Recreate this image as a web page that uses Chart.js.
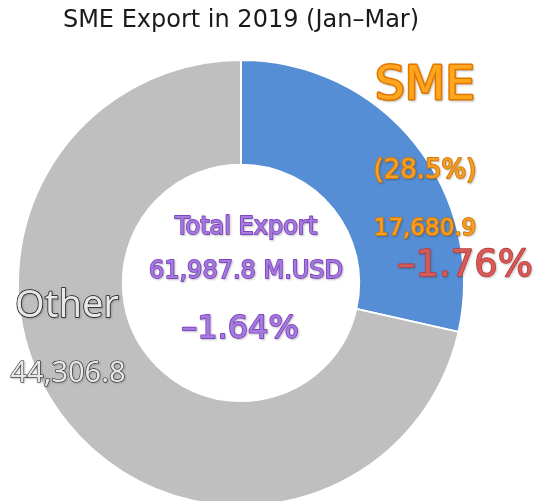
<!DOCTYPE html>
<html lang="en">
<head>
  <meta charset="UTF-8" />
  <title>SME Export 2019</title>
  <script src="https://cdn.jsdelivr.net/npm/chart.js"></script>
  <style>
    html, body { margin: 0; padding: 0; background: #fff; overflow: hidden; }
    #wrap { width: 538px; height: 501px; overflow: hidden; }
    #box { width: 538px; height: 520px; }
  </style>
</head>
<body>
  <div id="wrap"><div id="box"><canvas id="donut"></canvas></div></div>

  <script>
    // data
    const categories = ['SME', 'Other'];
    const values = [17680.9, 44306.8];
    const colors = ['#558ED5', '#BFBFBF'];
    const totalExport = 61987.8;
    const smeGrowth = -1.76;
    const totalGrowth = -1.64;

    const fmt = v => v.toLocaleString('en-US', { minimumFractionDigits: 1, maximumFractionDigits: 1 });
    const pct = v => (v >= 0 ? '' : '\u2013') + Math.abs(v).toFixed(2) + '%';
    const smeShare = values[0] / values.reduce((a, b) => a + b, 0) * 100;

    const FONT = '"DejaVu Sans", sans-serif';
    const THIN = '"Noto Sans", sans-serif';

    function outlined(ctx, txt, x, y, font, fill, stroke, lw) {
      ctx.save();
      ctx.font = font;
      ctx.textAlign = 'center';
      ctx.textBaseline = 'middle';
      ctx.lineJoin = 'round';
      ctx.shadowColor = 'rgba(0,0,0,0.25)';
      ctx.shadowBlur = 2;
      ctx.shadowOffsetX = 1;
      ctx.shadowOffsetY = 1;
      ctx.lineWidth = lw;
      ctx.strokeStyle = stroke;
      ctx.strokeText(txt, x, y);
      ctx.shadowColor = 'transparent';
      ctx.fillStyle = fill;
      ctx.fillText(txt, x, y);
      ctx.restore();
    }

    const labelPlugin = {
      id: 'labels',
      afterDraw(chart) {
        const arc = chart.getDatasetMeta(0).data[0];
        const cx = arc.x, cy = arc.y;
        const ctx = chart.ctx;
        // SME side
        outlined(ctx, categories[0], cx + 184, cy - 196, '47px ' + FONT, '#FFA51E', '#E07800', 3);
        outlined(ctx, '(' + smeShare.toFixed(1) + '%)', cx + 184, cy - 112, '26px ' + FONT, '#F5A02A', '#D97A00', 2);
        outlined(ctx, fmt(values[0]), cx + 184, cy - 54, '23px ' + FONT, '#F5A02A', '#D97A00', 2);
        outlined(ctx, pct(smeGrowth), cx + 224, cy - 17, '37px ' + FONT, '#D65B58', '#B83A3A', 1.5);
        // center
        outlined(ctx, 'Total Export', cx + 5, cy - 55, '24px ' + FONT, '#A77BDC', '#7E45C4', 1.8);
        outlined(ctx, fmt(totalExport) + ' M.USD', cx + 5, cy - 11, '24px ' + FONT, '#A77BDC', '#7E45C4', 1.8);
        outlined(ctx, pct(totalGrowth), cx - 1, cy + 47, '32px ' + FONT, '#A77BDC', '#7E45C4', 1.8);
        // Other side
        outlined(ctx, categories[1], cx - 174, cy + 23, '38px ' + THIN, '#E8E8E8', '#111', 1.5);
        outlined(ctx, fmt(values[1]), cx - 173, cy + 91, '29px ' + THIN, '#E8E8E8', '#222', 1.2);
      }
    };

    new Chart(document.getElementById('donut'), {
      type: 'doughnut',
      data: {
        labels: categories,
        datasets: [{
          data: values,
          backgroundColor: colors,
          borderColor: '#ffffff',
          borderWidth: 2
        }]
      },
      options: {
        responsive: true,
        maintainAspectRatio: false,
        animation: false,
        cutout: '53%',
        layout: { padding: { left: 17, right: 73, top: 0, bottom: 13 } },
        plugins: {
          legend: { display: false },
          tooltip: { enabled: false },
          title: {
            display: true,
            text: 'SME Export in 2019 (Jan\u2013Mar)',
            color: '#1a1a1a',
            font: { family: FONT, size: 24, weight: 'normal' },
            padding: { top: 6, bottom: 24 }
          }
        }
      },
      plugins: [labelPlugin]
    });
  </script>
</body>
</html>
